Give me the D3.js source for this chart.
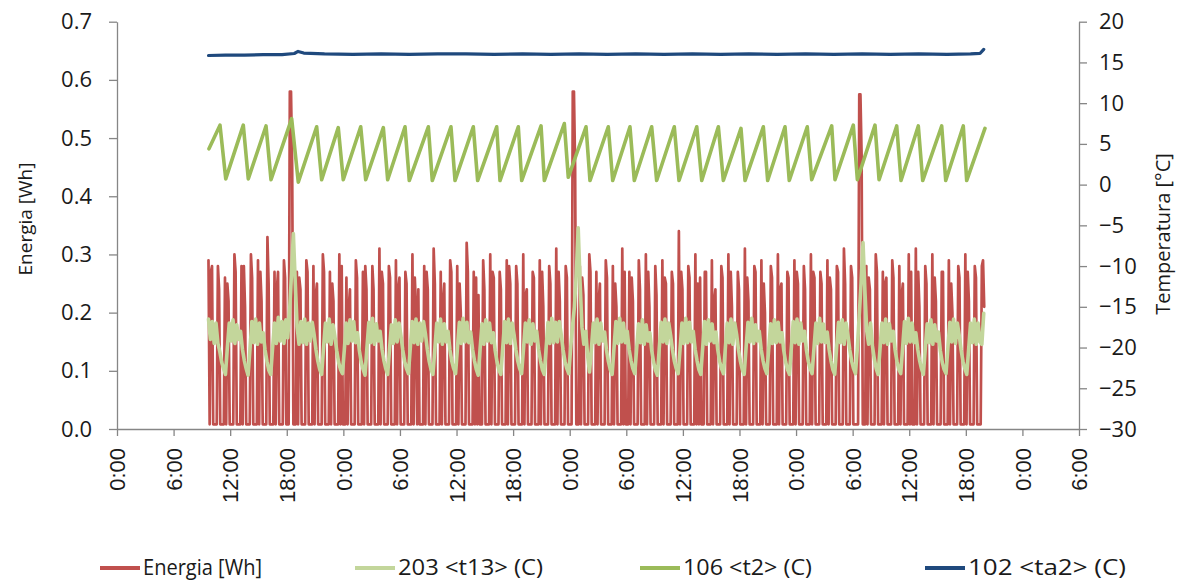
<!DOCTYPE html>
<html><head><meta charset="utf-8">
<script src="https://cdn.jsdelivr.net/npm/d3@7"></script>
<style>body{margin:0;background:#fff}svg{display:block}</style>
</head><body>
<svg id="c" width="1184" height="580"></svg>
<script>
// ---- data ----
const xTickHours = [0,6,12,18,24,30,36,42,48,54,60,66,72,78,84,90,96,102];
const xTickLabels = ["0:00","6:00","12:00","18:00","0:00","6:00","12:00","18:00","0:00","6:00","12:00","18:00","0:00","6:00","12:00","18:00","0:00","6:00"];
const leftTicks = [0,0.1,0.2,0.3,0.4,0.5,0.6,0.7];
const rightTicks = [-30,-25,-20,-15,-10,-5,0,5,10,15,20];
const seriesNames = ["Energia [Wh]","203 <t13> (C)","106 <t2> (C)","102 <ta2> (C)"];
const seriesColors = ["#C0504D","#C3D69B","#9BBB59","#1F497D"];

// Energia: start hour and sample step (hours)
const eT0 = 9.7, eDt = 0.125;
const z = 0.008; // standby level
const energia = [
 .29,z,.27,.28,z,z,z,z, .28,.24,z,z,z,z, .26,z,.25,.22,z,z,z,z, .3,.27,z,z,z,z,
 .28,z,.28,.21,z,z,z,z, .3,.26,z,z,z,z, .29,z,.27,.22,z,z,z,z, .33,.25,z,z,z,z,
 .27,z,.24,.27,z,z,z,z, .29,.26,z,z,z,
 .58,.58,.45,z,z,z,
 .27,z,.26,.24,z,z,z,z, .29,.27,z,z,z,z,
 .28,z,.23,.25,z,z,z,z, .3,.27,z,z,z,z,
 .27,z,.25,.22,z,z,z,z, .3,z,.28,z,z,z,
 .26,z,.21,.24,z,z,z,z, .29,.26,z,z,z,z,
 .27,z,.28,.24,z,z,z,z, .28,.24,z,z,z,z,
 .31,z,.27,.25,z,z,z,z, .28,.26,z,z,z,z,
 .29,z,.24,.26,z,z,z,z, .27,.25,z,z,z,z,
 .3,z,.26,.21,z,.24,z,z,z,z,
 .28,z,.27,.24,z,z,z,z, .31,.25,z,z,z,z,
 .27,z,.22,.25,z,z,z,z, .29,.27,z,z,z,z,
 .28,z,.25,.2,z,z,z,z, .32,.27,z,z,z,z,
 .27,z,.26,z,.23,z,z,z, .29,.24,z,z,z,z,
 .3,z,.27,.26,z,z,z,z, .27,.24,z,z,z,z,
 .29,z,.28,.25,z,z,z,z, .28,.25,z,z,z,z,
 .3,z,.23,.24,z,z,z,z, .27,.26,z,z,z,z,
 .29,z,.27,.21,z,z,z,z, .28,.25,z,z,z,z,
 .31,z,.27,.22,z,z,z,z, .28,.26,z,z,z,z,
 .58,.58,.45,z,z,z,
 .28,z,.26,.23,z,z,z,z, .3,.27,z,z,z,z,
 .27,z,.22,.25,z,z,z,z, .29,.26,z,z,z,z,
 .28,z,.25,.21,z,z,z,z, .31,z,.27,z,z,z,
 .27,z,.26,.22,z,z,z,z, .29,.24,z,z,z,z,
 .3,z,.27,.21,z,z,z,z, .28,.23,z,z,z,z,
 .29,z,.26,.25,z,z,z,z, .27,.25,z,z,z,z,
 .34,z,.27,.24,z,z,z,z, .28,.26,z,z,z,z,
 .3,z,.25,z,.26,z,z,z, .27,.27,z,z,z,z,
 .29,z,.22,.24,z,z,z,z, .28,.26,z,z,z,z,
 .3,z,.27,.21,z,z,z,z, .27,.24,z,z,z,z,
 .31,z,.26,.22,z,z,z,z, .28,.27,z,z,z,z,
 .29,z,.25,.2,z,z,z,z, .28,.26,z,z,z,z,
 .3,z,.24,.25,z,z,z,z, .27,.26,z,z,z,z,
 .29,z,.27,.25,z,z,z,z, .28,.24,z,z,z,z,
 .3,z,.27,.26,z,z,z,z, .27,.25,z,z,z,z,
 .29,z,.26,.24,z,z,z,z, .28,.27,z,z,z,z,
 .31,.25,z,z,z,z, .28,.26,z,z,z,z,z,
 .575,.575,.47,z,z,z,
 .28,z,.26,.24,z,z,z,z, .3,.27,z,z,z,z,
 .27,z,.25,.26,z,z,z,z, .29,.26,z,z,z,z,
 .28,z,.23,.25,z,z,z,z, .3,z,.27,z,z,z,
 .31,z,.27,.21,z,z,z,z, .28,.25,z,z,z,z,
 .3,z,.26,.22,z,z,z,z, .27,.27,z,z,z,z,
 .29,z,.25,.2,z,z,z,z, .28,.26,z,z,z,z,
 .3,z,.27,.22,z,z,z,z, .28,.26,z,z,z,z,
 .28,.29,.21
];
// t13: start hour and sample step (hours)
const tT0 = 9.7, tDt = 0.2;
const t13 = [
 -16.5,-19,-16.8,-19.5,-17,-19.5,-20.5,-21.8,-22.6, -23.3,
 -20,-17,-19.2,-16.6,-19.5,-17.2,-19,-18,-20.2,-21.6,-22.6, -23.4,
 -20.2,-16.8,-19.4,-16.5,-19.6,-17,-19.3,-18.2,-20.3,-21.7,-22.8, -23.3,
 -20,-17,-19.5,-16.3,-19.2,-16.8,-19.5,-16.6,-18.8,-15.5,-11, -6, -12,-17.5,-19.6,
 -16.8,-19.4,-16.5,-19.6,-17,-19.2,-16.9,-18.4,-20.3,-21.7,-22.7, -23.3,
 -20,-17,-19.3,-16.5,-19.6,-17.2,-18.6,-20.4,-21.8,-22.7, -23.2,
 -20.3,-17,-19.5,-16.6,-19.2,-16.8,-19.4,-18.2,-20.4,-21.8,-22.7, -23.4,
 -20,-16.9,-19.4,-16.4,-19.6,-17.1,-19.2,-18,-20.2,-21.6,-22.6, -23.3,
 -20.1,-17.2,-19.5,-16.6,-19.3,-17,-18.5,-20.3,-21.7,-22.6, -23.2,
 -20,-16.8,-19.4,-16.5,-19.6,-17,-19.2,-16.8,-18.3,-20.2,-21.7,-22.7, -23.3,
 -20.2,-17,-19.3,-16.5,-19.6,-17.1,-19.3,-18,-20.3,-21.7,-22.6, -23.2,
 -20,-16.9,-19.5,-16.4,-19.3,-16.9,-19.4,-18.1,-20.2,-21.6,-22.7, -23.4,
 -20.1,-17.1,-19.6,-16.6,-19.2,-17,-19.4,-18.2,-20.4,-21.8,-22.8, -23.3,
 -20,-16.8,-19.4,-16.5,-19.5,-17,-18.4,-20.3,-21.7,-22.6, -23.2,
 -20.2,-17,-19.3,-16.6,-19.6,-17.1,-19.2,-18,-20.2,-21.6,-22.7, -23.3,
 -20,-16.9,-19.5,-16.4,-19.4,-16.9,-19.3,-16.8,-18.4,-20.3,-21.7,-22.6, -23.2,
 -20.1,-17.3,-15,-11, -5.3, -12,-17.5,-19.6,-18,-21, -23,
 -20.2,-17,-19.4,-16.5,-19.6,-17,-19.2,-18.1,-20.3,-21.7,-22.7, -23.3,
 -20,-16.8,-19.5,-16.4,-19.3,-17,-19.4,-18,-20.2,-21.6,-22.6, -23.2,
 -20.1,-17.1,-19.4,-16.6,-19.6,-17.2,-19.2,-18.2,-20.4,-21.8,-22.8, -23.4,
 -20,-16.9,-19.3,-16.5,-19.5,-17,-18.5,-20.3,-21.7,-22.6, -23.2,
 -20.2,-17,-19.5,-16.4,-19.4,-16.9,-19.3,-18,-20.2,-21.6,-22.7, -23.3,
 -20,-16.8,-19.6,-16.6,-19.2,-17.1,-19.4,-18.1,-20.3,-21.7,-22.6, -23.2,
 -20.1,-17,-19.4,-16.5,-19.6,-17,-18.4,-20.3,-21.7,-22.7, -23.3,
 -20,-16.9,-19.3,-16.4,-19.5,-17.2,-19.2,-18,-20.2,-21.6,-22.6, -23.2,
 -20.2,-17.1,-19.5,-16.6,-19.4,-16.9,-19.3,-18.2,-20.4,-21.8,-22.7, -23.3,
 -20,-16.8,-19.4,-16.5,-19.6,-17,-19.2,-18,-20.3,-21.7,-22.6, -23.2,
 -20.1,-17,-19.5,-16.4,-19.3,-17.1,-19.4,-18.1,-20.2,-21.6,-22.7, -23.3,
 -20,-16.9,-19.4,-16.6,-19.6,-17,-18.5,-20.3,-21.7,-22.6, -23.2,
 -20,-16,-12,-7.1,-13,-18, -19.6,-17,-19.8,-21.4,-22.6, -23.3,
 -20.2,-17,-19.4,-16.5,-19.6,-17.1,-19.2,-18,-20.3,-21.7,-22.7, -23.2,
 -20,-16.8,-19.5,-16.4,-19.3,-17,-19.4,-18.2,-20.2,-21.6,-22.6, -23.3,
 -20.1,-17.1,-19.4,-16.6,-19.6,-17.2,-19.2,-18.1,-20.4,-21.8,-22.7, -23.2,
 -20,-16.9,-19.3,-16.5,-19.5,-17,-18.5,-20.3,-21.7,-22.6, -23.3,
 -20.2,-17,-19.4,-16.5,-19.6,-17,-19.3,-19.6,-15.8
];
// t2: turning points (hour, °C)
const t2Hours = [9.75,10.92,11.53,13.39,13.92,15.80,16.33,18.52,19.22,21.17,21.70,23.46,23.99,25.84,26.37,28.24,28.70,
 30.54,30.99,33.01,33.43,35.41,35.84,37.78,38.24,40.26,40.61,42.55,42.91,44.96,45.31,47.43,47.85,49.73,50.15,
 52.09,52.56,54.39,54.85,56.69,57.22,59.09,59.59,61.47,62.00,63.76,64.29,66.16,66.59,68.53,68.99,70.83,71.28,
 73.19,73.66,75.78,76.13,78.07,78.50,80.37,80.80,82.67,83.13,84.96,85.43,87.44,87.87,89.73,90.09,92.03];
const t2Vals = [4.4,7.3,0.7,7.3,0.7,7.2,0.6,8.1,0.3,7.1,0.6,7.0,0.6,7.1,0.6,7.0,0.6,
 7.1,0.5,7.1,0.5,7.1,0.5,7.1,0.5,7.1,0.5,7.1,0.5,7.2,0.5,7.5,0.9,7.1,0.5,
 7.1,0.5,7.1,0.5,7.1,0.5,7.1,0.5,7.1,0.5,7.1,0.5,6.9,0.5,7.1,0.5,7.1,0.5,
 7.1,0.6,7.2,0.6,7.3,0.6,7.3,0.6,7.2,0.5,7.2,0.5,7.2,0.5,7.2,0.5,6.9];
// ta2
const ta2Hours = [9.7,11.5,13.5,15.5,17.5,18.8,19.2,19.8,22,25,28,31,34,37,40,43,46,49,52,55,58,61,64,67,70,73,76,79,82,85,88,90.5,91.5,91.9];
const ta2Vals  = [15.85,15.9,15.9,15.95,15.95,16.1,16.35,16.15,16.05,16.0,16.05,16.0,16.05,16.05,16.0,16.05,16.0,16.05,16.0,16.05,16.0,16.05,16.0,16.05,16.0,16.05,16.0,16.05,16.0,16.05,16.0,16.05,16.1,16.6];

// ---- chart ----
const svg = d3.select("#c");
const X0 = 117, X1 = 1079, YT = 21.7, YB = 429;
const x = d3.scaleLinear().domain([0,102]).range([X0,X1]);
const yL = d3.scaleLinear().domain([0,0.7]).range([YB,YT]);
const yR = d3.scaleLinear().domain([-30,20]).range([YB,YT]);
const axisColor = "#868686";
const tickFont = "'Open Sans', sans-serif";

function styleAxis(g){
  g.select(".domain").attr("stroke",axisColor).attr("stroke-width",1.3);
  g.selectAll(".tick line").attr("stroke",axisColor).attr("stroke-width",1.3);
  g.selectAll(".tick text").attr("fill","#1a1a1a");
}

const gL = svg.append("g").attr("transform",`translate(${X0},0)`)
  .call(d3.axisLeft(yL).tickValues(leftTicks).tickFormat(d3.format(".1f")).tickSize(8).tickPadding(17).tickSizeOuter(0))
  .attr("font-family",tickFont).attr("font-size",22);
styleAxis(gL);
const gR = svg.append("g").attr("transform",`translate(${X1},0)`)
  .call(d3.axisRight(yR).tickValues(rightTicks).tickSize(8).tickPadding(12).tickSizeOuter(0))
  .attr("font-family",tickFont).attr("font-size",22);
styleAxis(gR);
const gX = svg.append("g").attr("transform",`translate(0,${YB})`)
  .call(d3.axisBottom(x).tickValues(xTickHours).tickFormat((d,i)=>xTickLabels[i]).tickSize(7).tickSizeOuter(0))
  .attr("font-family","'Liberation Sans', Arial, sans-serif").attr("font-size",22);
styleAxis(gX);
gX.selectAll(".tick text").attr("transform","rotate(-90)").attr("x",-19).attr("y",0).attr("dy","0.35em").attr("text-anchor","end");

// axis titles
svg.append("text").attr("transform",`translate(32,219) rotate(-90)`).attr("text-anchor","middle")
  .attr("font-family",tickFont).attr("font-size",19).attr("fill","#1a1a1a").text("Energia [Wh]");
svg.append("text").attr("transform",`translate(1170,234) rotate(-90)`).attr("text-anchor","middle")
  .attr("font-family",tickFont).attr("font-size",20).attr("fill","#1a1a1a").text("Temperatura [°C]");

const plot = svg.append("g");
const lineE = d3.line().x((d,i)=>x(eT0+i*eDt)).y(d=>yL(d));
const lineS = d3.line().x((d,i)=>x(tT0+i*tDt)).y(d=>yR(d));
const linePts = d3.line().x(d=>x(d[0])).y(d=>yR(d[1]));

plot.append("path").datum(energia).attr("d",lineE).attr("fill","none")
  .attr("stroke",seriesColors[0]).attr("stroke-width",2.7).attr("stroke-linejoin","round").attr("stroke-linecap","round");
plot.append("path").datum(t13).attr("d",lineS).attr("fill","none")
  .attr("stroke",seriesColors[1]).attr("stroke-width",3.6).attr("stroke-linejoin","round").attr("stroke-linecap","round");
plot.append("path").datum(t2Hours.map((h,i)=>[h,t2Vals[i]])).attr("d",linePts).attr("fill","none")
  .attr("stroke",seriesColors[2]).attr("stroke-width",3.6).attr("stroke-linejoin","round").attr("stroke-linecap","round");
plot.append("path").datum(ta2Hours.map((h,i)=>[h,ta2Vals[i]])).attr("d",linePts).attr("fill","none")
  .attr("stroke",seriesColors[3]).attr("stroke-width",3.2).attr("stroke-linejoin","round").attr("stroke-linecap","round");

// legend
const legX = [100,355,640,925];
const legW = [119,145,129,158];
const leg = svg.append("g");
seriesNames.forEach((n,i)=>{
  leg.append("line").attr("x1",legX[i]).attr("x2",legX[i]+40).attr("y1",568).attr("y2",568)
    .attr("stroke",seriesColors[i]).attr("stroke-width",4);
  leg.append("text").attr("x",legX[i]+43).attr("y",568).attr("dy","0.35em")
    .attr("font-family",tickFont).attr("font-size",21).attr("fill","#1a1a1a")
    .attr("textLength",legW[i]).attr("lengthAdjust","spacingAndGlyphs").text(n);
});
</script>
</body></html>
